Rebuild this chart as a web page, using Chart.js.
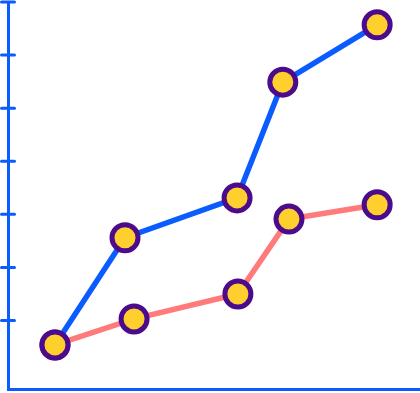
<!DOCTYPE html>
<html><head><meta charset="utf-8">
<script src="https://cdn.jsdelivr.net/npm/chart.js@4/dist/chart.umd.min.js"></script>
<style>html,body{margin:0;padding:0;background:#fff;}#wrap{width:420px;height:393px;}</style>
</head><body><div id="wrap"><canvas id="c"></canvas></div>
<script>
const blueX = [11.4, 28.4, 55.6, 66.7, 89.6];
const blueY = [0.54, 2.56, 3.31, 5.49, 6.57];
const redX = [11.4, 30.6, 55.8, 68.2, 89.6];
const redY = [0.54, 1.03, 1.50, 2.91, 3.18];
const yTicks = [1, 2, 3, 4, 5, 6, 7];

const AXIS = '#0a5cff';
const pts = (xs, ys) => xs.map((x, i) => ({x, y: ys[i]}));

const crossTicks = {
  id: 'crossTicks',
  afterDraw(chart) {
    const s = chart.scales.y, ctx = chart.ctx;
    const x0 = s.right;
    ctx.save();
    ctx.strokeStyle = AXIS; ctx.lineWidth = 3; ctx.lineCap = 'round';
    s.ticks.forEach(t => {
      const y = s.getPixelForValue(t.value);
      ctx.beginPath(); ctx.moveTo(x0 - 6.5, y); ctx.lineTo(x0 + 6.5, y); ctx.stroke();
    });
    ctx.restore();
  }
};

new Chart(document.getElementById('c'), {
  type: 'line',
  data: {
    datasets: [
      {data: pts(blueX, blueY), borderColor: '#0a5cff', borderWidth: 5.5,
       pointBackgroundColor: '#ffcf2e', pointBorderColor: '#4b0b8c', pointBorderWidth: 5, pointRadius: 13, clip: false},
      {data: pts(redX, redY), borderColor: '#ff7a7a', borderWidth: 5.5,
       pointBackgroundColor: '#ffcf2e', pointBorderColor: '#4b0b8c', pointBorderWidth: 5, pointRadius: 13, clip: false}
    ]
  },
  options: {
    responsive: true, maintainAspectRatio: false, animation: false,
    layout: {autoPadding: false, padding: {left: 8, top: 2, bottom: 4, right: 0}},
    plugins: {legend: {display: false}, tooltip: {enabled: false}},
    elements: {line: {tension: 0}},
    scales: {
      x: {type: 'linear', min: 0, max: 100,
          grid: {display: false, drawTicks: false},
          ticks: {display: false},
          border: {display: true, color: AXIS, width: 3},
          afterFit: s => { s.height = 0; }},
      y: {type: 'linear', min: -0.29, max: 7,
          grid: {display: false, drawTicks: false},
          ticks: {display: false},
          border: {display: true, color: AXIS, width: 3},
          afterBuildTicks: s => { s.ticks = yTicks.map(v => ({value: v})); },
          afterFit: s => { s.width = 0; }}
    }
  },
  plugins: [crossTicks]
});
</script></body></html>
